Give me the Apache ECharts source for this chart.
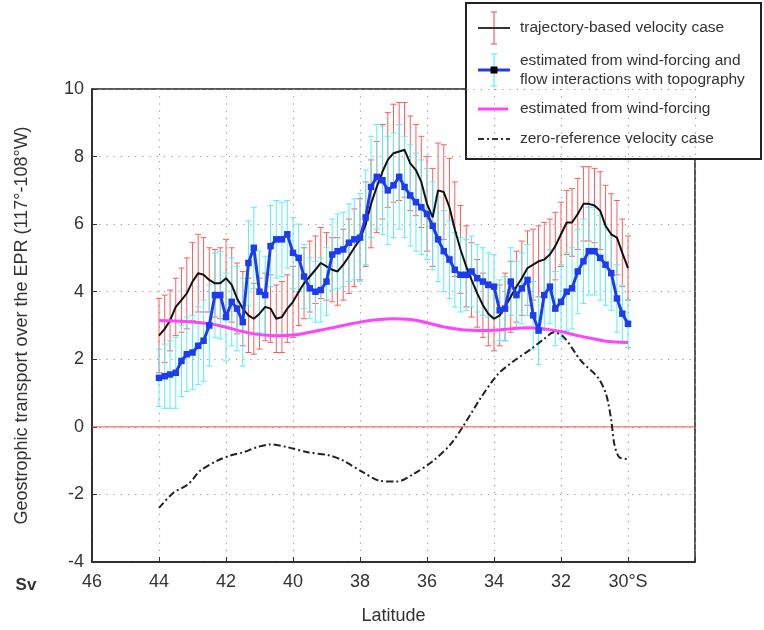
<!DOCTYPE html>
<html>
<head>
<meta charset="utf-8">
<script src="https://cdn.jsdelivr.net/npm/echarts@6/dist/echarts.min.js"></script>
<style>
  html, body { margin: 0; padding: 0; background: #fff; }
  #chart { width: 764px; height: 630px; }
</style>
</head>
<body>
<div id="chart"></div>
<script>
// latitude of each estimate (degrees south, 10' steps)
const lat = [
  44, 43.83, 43.67, 43.5, 43.33, 43.17,
  43, 42.83, 42.67, 42.5, 42.33, 42.17,
  42, 41.83, 41.67, 41.5, 41.33, 41.17,
  41, 40.83, 40.67, 40.5, 40.33, 40.17,
  40, 39.83, 39.67, 39.5, 39.33, 39.17,
  39, 38.83, 38.67, 38.5, 38.33, 38.17,
  38, 37.83, 37.67, 37.5, 37.33, 37.17,
  37, 36.83, 36.67, 36.5, 36.33, 36.17,
  36, 35.83, 35.67, 35.5, 35.33, 35.17,
  35, 34.83, 34.67, 34.5, 34.33, 34.17,
  34, 33.83, 33.67, 33.5, 33.33, 33.17,
  33, 32.83, 32.67, 32.5, 32.33, 32.17,
  32, 31.83, 31.67, 31.5, 31.33, 31.17,
  31, 30.83, 30.67, 30.5, 30.33, 30.17,
  30
]

// trajectory-based velocity case (Sv) and its error (red bars)
const trajectory = [
  2.7, 2.9, 3.15, 3.55, 3.75, 3.95,
  4.3, 4.55, 4.5, 4.35, 4.25, 4.25,
  4.4, 4.2, 3.8, 3.5, 3.3, 3.2,
  3.35, 3.55, 3.5, 3.2, 3.25, 3.5,
  3.7, 4.0, 4.25, 4.45, 4.65, 4.85,
  4.75, 4.65, 4.6, 4.8, 5.05, 5.3,
  5.55, 6.0, 6.6, 7.1, 7.55, 7.9,
  8.1, 8.15, 8.2, 7.8, 7.6, 7.25,
  6.6, 6.2, 7.0, 6.95, 6.5, 5.85,
  5.25, 4.75, 4.35, 3.95, 3.6, 3.35,
  3.2, 3.3, 3.55, 3.85, 4.15, 4.4,
  4.7, 4.8, 4.9, 4.95, 5.1, 5.35,
  5.7, 6.05, 6.05, 6.3, 6.6, 6.6,
  6.55, 6.4, 5.95, 5.7, 5.6, 5.15,
  4.7
]
const trajectoryErr = [
  1.1, 1.0, 0.9, 0.85, 0.95, 1.05,
  1.15, 1.15, 1.1, 0.95, 1.0, 1.05,
  1.15, 1.1, 1.05, 1.1, 1.1, 1.05,
  1.05, 1.0, 1.0, 1.0, 1.05, 1.0,
  1.05, 1.0, 1.05, 1.05, 1.0, 1.05,
  1.0, 0.95, 1.0, 1.05, 1.1, 1.15,
  1.2, 1.25, 1.3, 1.35, 1.4, 1.4,
  1.45, 1.45, 1.4, 1.4, 1.35, 1.35,
  1.4, 1.45, 1.4, 1.4, 1.45, 1.4,
  1.3, 1.2, 1.1, 1.0, 0.95, 0.95,
  0.95, 0.9, 1.0, 1.05, 1.05, 1.1,
  1.1, 1.05, 1.05, 1.1, 1.05, 1.0,
  0.95, 0.95, 1.0, 1.05, 1.1, 1.1,
  1.1, 1.15, 1.2, 1.2, 1.1, 1.0,
  0.95
]

// estimated from wind-forcing and flow interactions with topography (cyan bars)
const topography = [
  1.45, 1.5, 1.55, 1.6, 1.95, 2.15,
  2.2, 2.4, 2.55, 3.0, 3.9, 3.9,
  3.25, 3.7, 3.5, 3.1, 4.85, 5.3,
  4.0, 3.9, 5.35, 5.55, 5.55, 5.7,
  5.15, 5.0, 4.45, 4.1, 4.0, 4.05,
  4.3, 5.1, 5.2, 5.25, 5.45, 5.55,
  5.6, 6.2, 7.1, 7.4, 7.3, 7.0,
  7.15, 7.4, 7.1, 6.85, 6.65, 6.5,
  6.3, 5.95, 5.55, 5.2, 4.95, 4.65,
  4.5, 4.5, 4.6, 4.4, 4.3, 4.2,
  4.15, 3.45, 3.5, 4.3, 3.9, 4.1,
  4.35, 3.3, 2.85, 3.9, 4.15, 3.5,
  3.7, 4.0, 4.1, 4.6, 4.9, 5.2,
  5.2, 5.0, 4.8, 4.55, 3.8, 3.35,
  3.05
]
const topographyErr = [
  0.85, 0.95, 1.0, 1.05, 1.05, 1.1,
  1.1, 1.15, 1.2, 1.2, 1.25, 1.3,
  1.3, 1.3, 1.25, 1.3, 1.25, 1.2,
  1.2, 1.15, 1.2, 1.15, 1.1, 1.0,
  1.05, 1.0, 0.95, 0.9, 0.9, 0.95,
  1.0, 1.05, 1.1, 1.1, 1.15, 1.2,
  1.3, 1.4, 1.5, 1.55, 1.6, 1.6,
  1.55, 1.55, 1.5, 1.5, 1.45, 1.4,
  1.35, 1.3, 1.25, 1.2, 1.15, 1.1,
  1.1, 1.05, 1.05, 1.0, 1.0, 0.95,
  0.95, 0.9, 0.95, 1.0, 1.0, 1.05,
  1.05, 1.0, 1.0, 1.05, 1.1, 1.1,
  1.1, 1.15, 1.2, 1.25, 1.25, 1.3,
  1.3, 1.25, 1.2, 1.1, 1.0, 0.85,
  0.7
]

// estimated from wind-forcing only
const windLat = [44, 43.5, 43, 42.5, 42, 41.5, 41, 40.5, 40, 39.5, 39, 38.5, 38, 37.5, 37,
  36.5, 36, 35.5, 35, 34.5, 34, 33.5, 33, 32.5, 32, 31.5, 31, 30.5, 30]
const windOnly = [3.15, 3.13, 3.1, 3.05, 2.95, 2.82, 2.73, 2.7, 2.72, 2.8, 2.9, 3.0, 3.1, 3.17, 3.2,
  3.18, 3.08, 2.96, 2.88, 2.85, 2.86, 2.9, 2.93, 2.9, 2.82, 2.7, 2.6, 2.52, 2.5]

// zero-reference velocity case
const zeroLat = [44, 43.57, 43.13, 42.77, 42.26, 41.87, 41.48, 41.07, 40.68, 40.17, 39.57, 38.89,
  38.5, 37.9, 37.4, 36.89, 36.41, 35.81, 35.3, 34.9, 34.4, 33.89, 33.41, 32.9, 32.51, 32.21,
  31.91, 31.4, 30.89, 30.65, 30.5, 30.41, 30.26, 30]
const zeroRef = [-2.4, -1.95, -1.7, -1.3, -1.0, -0.85, -0.75, -0.6, -0.52, -0.6, -0.75, -0.85,
  -1.0, -1.35, -1.6, -1.62, -1.4, -1.0, -0.52, 0.05, 0.85, 1.55, 1.95, 2.3, 2.6, 2.8,
  2.65, 1.95, 1.45, 0.95, 0.2, -0.5, -0.9, -0.95]

// axis extent and ticks
const latMin = 28
const latMax = 46
const latStep = 2

const FONT = "'Liberation Sans', Arial, Helvetica, sans-serif"
const TXT = '#333'

// x is stored as -latitude so that 46 sits on the left
const pts = (la, vals) => la.map((l, i) => [-l, vals[i]])
const bars = (la, vals, err) => la.map((l, i) => [-l, vals[i] - err[i], vals[i] + err[i]])

function errorBar(color) {
  return function (params, api) {
    const x = api.value(0)
    const lo = api.coord([x, api.value(1)])
    const hi = api.coord([x, api.value(2)])
    const w = 3
    const st = { stroke: color, lineWidth: 1 }
    return {
      type: 'group',
      children: [
        { type: 'line', shape: { x1: lo[0], y1: lo[1], x2: hi[0], y2: hi[1] }, style: st },
        { type: 'line', shape: { x1: lo[0] - w, y1: lo[1], x2: lo[0] + w, y2: lo[1] }, style: st },
        { type: 'line', shape: { x1: hi[0] - w, y1: hi[1], x2: hi[0] + w, y2: hi[1] }, style: st }
      ]
    }
  }
}

const RED = '#ff5c5c'
const CYAN = '#55f2f2'
const BLUE = '#1d3cf2'
const MAGENTA = '#ff44ff'

// legend, drawn by hand so the icons can carry error bars
const LX = 494
function legendBar(cy, color) {
  return [
    { type: 'line', shape: { x1: LX, y1: cy - 16, x2: LX, y2: cy + 16 }, style: { stroke: color, lineWidth: 1.2 } },
    { type: 'line', shape: { x1: LX - 3, y1: cy - 16, x2: LX + 3, y2: cy - 16 }, style: { stroke: color, lineWidth: 1.2 } },
    { type: 'line', shape: { x1: LX - 3, y1: cy + 16, x2: LX + 3, y2: cy + 16 }, style: { stroke: color, lineWidth: 1.2 } }
  ]
}
function legendText(x, y, t) {
  return { type: 'text', x: x, y: y, style: { text: t, font: '15.5px ' + FONT, fill: TXT, textVerticalAlign: 'middle' } }
}

const legend = [
  { type: 'rect', shape: { x: 466, y: 3, width: 295, height: 156 }, style: { fill: '#fff', stroke: '#222', lineWidth: 2 } },
  ...legendBar(28, RED),
  { type: 'line', shape: { x1: 478, y1: 28, x2: 510, y2: 28 }, style: { stroke: '#333', lineWidth: 2 } },
  legendText(520, 28, 'trajectory-based velocity case'),
  ...legendBar(70, CYAN),
  { type: 'line', shape: { x1: 478, y1: 70, x2: 510, y2: 70 }, style: { stroke: BLUE, lineWidth: 3 } },
  { type: 'rect', shape: { x: LX - 3.5, y: 66.5, width: 7, height: 7 }, style: { fill: '#000' } },
  legendText(520, 61, 'estimated from wind-forcing and'),
  legendText(520, 80, 'flow interactions with topography'),
  { type: 'line', shape: { x1: 478, y1: 109, x2: 508, y2: 109 }, style: { stroke: MAGENTA, lineWidth: 3 } },
  legendText(520, 109, 'estimated from wind-forcing'),
  { type: 'line', shape: { x1: 478, y1: 139, x2: 510, y2: 139 }, style: { stroke: '#333', lineWidth: 2, lineDash: [6, 3, 2, 3] } },
  legendText(520, 139, 'zero-reference velocity case'),
  { type: 'text', x: 26, y: 585, style: { text: 'Sv', font: 'bold 17px ' + FONT, fill: TXT, textAlign: 'center', textVerticalAlign: 'middle' } }
]

const chart = echarts.init(document.getElementById('chart'), null, { renderer: 'canvas' })
chart.setOption({
  animation: false,
  backgroundColor: '#fff',
  textStyle: { fontFamily: FONT },
  grid: { left: 92, right: 69, top: 89, bottom: 65, show: true, borderColor: '#222', borderWidth: 1.5, backgroundColor: 'transparent' },
  xAxis: {
    type: 'value', min: -latMax, max: -latMin, interval: latStep,
    name: 'Latitude', nameLocation: 'middle', nameGap: 45,
    nameTextStyle: { fontSize: 18, color: TXT, fontFamily: FONT },
    axisLine: { onZero: false, lineStyle: { color: '#222', width: 1.5 } },
    axisTick: { inside: true, length: 5, lineStyle: { color: '#333' } },
    axisLabel: {
      fontSize: 18, color: TXT, margin: 11, fontFamily: FONT,
      formatter: v => v === -latMin ? '' : (v === -30 ? '30°S' : String(-v))
    },
    splitLine: { show: true, lineStyle: { color: '#999', width: 1.2, type: [1.2, 6] } }
  },
  yAxis: {
    type: 'value', min: -4, max: 10, interval: 2,
    name: 'Geostrophic transport over the EPR (117°-108°W)', nameLocation: 'middle', nameGap: 61,
    nameTextStyle: { fontSize: 18, color: TXT, fontFamily: FONT },
    axisLine: { show: true, onZero: false, lineStyle: { color: '#222', width: 1.5 } },
    axisTick: { show: true, inside: true, length: 5, lineStyle: { color: '#333' } },
    axisLabel: { fontSize: 18, color: TXT, margin: 8, fontFamily: FONT },
    splitLine: { show: true, lineStyle: { color: '#999', width: 1.2, type: [1.2, 6] } }
  },
  graphic: legend,
  series: [
    {
      type: 'line', name: 'zero', data: [[-latMax, 0], [-latMin, 0]], showSymbol: false, silent: true,
      lineStyle: { color: '#ff4d4d', width: 1 }, z: 1
    },
    {
      type: 'custom', name: 'trajectory error', renderItem: errorBar(RED),
      data: bars(lat, trajectory, trajectoryErr), encode: { x: 0, y: [1, 2] }, z: 2, silent: true
    },
    {
      type: 'custom', name: 'topography error', renderItem: errorBar(CYAN),
      data: bars(lat, topography, topographyErr), encode: { x: 0, y: [1, 2] }, z: 3, silent: true
    },
    {
      type: 'line', name: 'trajectory-based velocity case', data: pts(lat, trajectory),
      showSymbol: false, lineStyle: { color: '#111', width: 2 }, z: 4
    },
    {
      type: 'line', name: 'estimated from wind-forcing', data: pts(windLat, windOnly), smooth: true,
      showSymbol: false, lineStyle: { color: MAGENTA, width: 3 }, z: 5
    },
    {
      type: 'line', name: 'estimated from wind-forcing and flow interactions with topography',
      data: pts(lat, topography), symbol: 'rect', symbolSize: 6.5, showSymbol: true,
      itemStyle: { color: BLUE }, lineStyle: { color: BLUE, width: 3 }, z: 6
    },
    {
      type: 'line', name: 'zero-reference velocity case', data: pts(zeroLat, zeroRef), smooth: 0.3,
      showSymbol: false, lineStyle: { color: '#222', width: 2, type: [7, 3, 2, 3] }, z: 7
    }
  ]
})
</script>
</body>
</html>
